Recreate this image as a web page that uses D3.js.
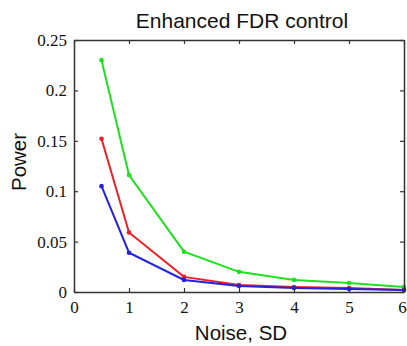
<!DOCTYPE html>
<html>
<head>
<meta charset="utf-8">
<script src="https://cdn.jsdelivr.net/npm/d3@7"></script>
<style>
  body { margin: 0; background: #fff; }
  svg { display: block; }
</style>
</head>
<body>
<div id="chart"></div>
<script>
// noise levels (SD) and power for the three methods
const noiseSD = [0.5, 1, 2, 3, 4, 5, 6];
const greenPower = [0.230, 0.116, 0.040, 0.020, 0.012, 0.009, 0.005];
const redPower = [0.152, 0.059, 0.015, 0.007, 0.005, 0.004, 0.002];
const bluePower = [0.105, 0.039, 0.012, 0.006, 0.004, 0.003, 0.002];
const xTicks = [0, 1, 2, 3, 4, 5, 6];
const yTicks = [0, 0.05, 0.1, 0.15, 0.2, 0.25];

const width = 407, height = 346;
const margin = { top: 40, right: 3, bottom: 54, left: 74 };
const innerW = width - margin.left - margin.right;
const innerH = height - margin.top - margin.bottom;

const svg = d3.select('#chart').append('svg')
  .attr('width', width)
  .attr('height', height);

const g = svg.append('g')
  .attr('transform', `translate(${margin.left},${margin.top})`);

const x = d3.scaleLinear().domain([0, 6]).range([0, innerW]);
const y = d3.scaleLinear().domain([0, 0.25]).range([innerH, 0]);

const series = [
  { values: greenPower, color: '#1ee01e' },
  { values: redPower, color: '#ee1f26' },
  { values: bluePower, color: '#2222e0' }
];

// lines
const line = d3.line()
  .x((d, i) => x(noiseSD[i]))
  .y(d => y(d));

series.forEach(s => {
  g.append('path')
    .datum(s.values)
    .attr('fill', 'none')
    .attr('stroke', s.color)
    .attr('stroke-width', 2)
    .attr('d', line);
  g.selectAll(null)
    .data(s.values)
    .enter()
    .append('circle')
    .attr('cx', (d, i) => x(noiseSD[i]))
    .attr('cy', d => y(d))
    .attr('r', 2.3)
    .attr('fill', s.color);
});

// axes with inward ticks, box on all sides
const xAxis = g.append('g')
  .attr('transform', `translate(0,${innerH})`)
  .call(d3.axisBottom(x).tickValues(xTicks).tickSizeInner(-4).tickSizeOuter(0).tickPadding(9).tickFormat(d3.format('d')));

const yAxis = g.append('g')
  .call(d3.axisLeft(y).tickValues(yTicks).tickSizeInner(-4).tickSizeOuter(0).tickPadding(7).tickFormat(d => d === 0 ? '0' : String(+d.toFixed(2))));

g.append('g')
  .call(d3.axisTop(x).tickValues(xTicks).tickSizeInner(-4).tickSizeOuter(0).tickFormat(''));

g.append('g')
  .attr('transform', `translate(${innerW},0)`)
  .call(d3.axisRight(y).tickValues(yTicks).tickSizeInner(-4).tickSizeOuter(0).tickFormat(''));

g.selectAll('.domain').attr('stroke', '#333').attr('stroke-width', 1.5);
g.selectAll('.tick line').attr('stroke', '#333').attr('stroke-width', 1.2);

[xAxis, yAxis].forEach(a => {
  a.attr('font-family', '"Times New Roman", "Liberation Serif", serif').attr('font-size', 17);
  a.selectAll('text').attr('fill', '#111');
});
// keep the last x label inside the frame edge
xAxis.selectAll('text').filter(d => d === 6).attr('dx', -2);

// title and axis labels
const sans = '"Liberation Sans", Arial, sans-serif';

svg.append('text')
  .attr('x', margin.left + innerW / 2 + 3)
  .attr('y', 28)
  .attr('text-anchor', 'middle')
  .attr('font-family', sans)
  .attr('font-size', 21)
  .attr('fill', '#111')
  .text('Enhanced FDR control');

svg.append('text')
  .attr('x', margin.left + innerW / 2 + 2)
  .attr('y', 340)
  .attr('text-anchor', 'middle')
  .attr('font-family', sans)
  .attr('font-size', 20.5)
  .attr('fill', '#111')
  .text('Noise, SD');

svg.append('text')
  .attr('transform', 'rotate(-90)')
  .attr('x', -162)
  .attr('y', 26)
  .attr('text-anchor', 'middle')
  .attr('font-family', sans)
  .attr('font-size', 20.5)
  .attr('fill', '#111')
  .text('Power');
</script>
</body>
</html>
